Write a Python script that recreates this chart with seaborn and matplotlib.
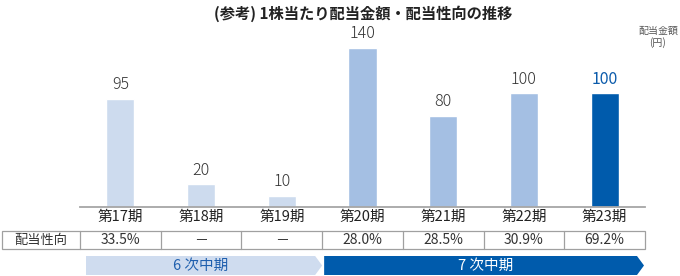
import matplotlib
matplotlib.use("Agg")
import matplotlib.pyplot as plt
from matplotlib.patches import Polygon, Rectangle
import seaborn as sns
import pandas as pd

# ---- data ----
periods = ["第17期", "第18期", "第19期", "第20期", "第21期", "第22期", "第23期"]
dividends = [95, 20, 10, 140, 80, 100, 100]
payout_ratio = ["33.5%", "－", "－", "28.0%", "28.5%", "30.9%", "69.2%"]
bar_group = ["light", "light", "light", "mid", "mid", "mid", "dark"]
phases = [("6 次中期", 0, 3), ("7 次中期", 3, 7)]
title = "(参考) 1株当たり配当金額・配当性向の推移"
unit_label = "配当金額\n(円)"
row_label = "配当性向"

# ---- style ----
sns.set_theme(style="white")
plt.rcParams["font.family"] = ["Noto Sans CJK JP", "DejaVu Sans"]

colors = {"light": "#cddbee", "mid": "#a4bfe3", "dark": "#005bac"}
arrow_colors = ["#cfdcef", "#005bac"]
arrow_text_colors = ["#1f5fae", "#ffffff"]

W, H = 680, 276
fig = plt.figure(figsize=(W / 100, H / 100), dpi=100)

# overlay axes in pixel coordinates (for table / arrows)
ov = fig.add_axes([0, 0, 1, 1], zorder=0)
ov.set_xlim(0, W)
ov.set_ylim(H, 0)
ov.axis("off")

ax_left, ax_right = 80, 645
base_y, top_y = 207, 27
px_per_unit = 1.137
ax = fig.add_axes([ax_left / W, (H - base_y) / H, (ax_right - ax_left) / W,
                   (base_y - top_y) / H], zorder=1)
ax.patch.set_alpha(0)

df = pd.DataFrame({"period": periods, "dividend": dividends, "group": bar_group})
sns.barplot(data=df, x="period", y="dividend", hue="period",
            palette=[colors[g] for g in bar_group], width=0.35,
            legend=False, ax=ax, saturation=1)
ax.set_xlim(-0.5, len(periods) - 0.5)
ax.set_ylim(0, (base_y - top_y) / px_per_unit)
ax.set_xlabel("")
ax.set_ylabel("")
ax.set_yticks([])
for s in ["top", "left", "right"]:
    ax.spines[s].set_visible(False)
ax.spines["bottom"].set_color("#a6a6a6")
ax.spines["bottom"].set_linewidth(1.3)
ax.tick_params(axis="x", length=0, pad=2, labelsize=10.5, labelcolor="#222222")

for i, (v, g) in enumerate(zip(dividends, bar_group)):
    dark = g == "dark"
    ax.annotate(str(v), (i, v), xytext=(0, 7), textcoords="offset points",
                ha="center", va="baseline", fontsize=11.5,
                fontweight="normal" if dark else "light",
                color="#0b5bab" if dark else "#333333")

# title & unit
fig.text(363 / W, 1 - 14 / H, title, ha="center", va="center",
         fontsize=11, fontweight="bold", color="#222222")
fig.text(658 / W, 1 - 37 / H, unit_label, ha="center", va="center",
         fontsize=7.2, color="#555555", linespacing=1.15)

# table
col_w = (ax_right - ax_left) / len(periods)
t_top, t_bot = 231, 249
edge = "#a0a0a0"
ov.add_patch(Rectangle((2, t_top), ax_right - 2, t_bot - t_top, fill=False,
                       edgecolor=edge, linewidth=0.9))
for k in range(len(periods)):
    x0 = ax_left + k * col_w
    ov.plot([x0, x0], [t_top, t_bot], color=edge, linewidth=0.9)
    ov.text(x0 + col_w / 2, (t_top + t_bot) / 2 + 0.5, payout_ratio[k],
            ha="center", va="center", fontsize=10, color="#333333")
ov.text((2 + ax_left) / 2, (t_top + t_bot) / 2 + 0.5, row_label,
        ha="center", va="center", fontsize=9.5, color="#333333")

# phase arrows
a_top, a_bot = 256, 275
a_mid = (a_top + a_bot) / 2
for j, (name, c0, c1) in enumerate(phases):
    x0 = ax_left + c0 * col_w + (6 if j == 0 else 2)
    x1 = ax_left + c1 * col_w - (0 if j == 0 else 1)
    pts = [(x0, a_top), (x1 - 7, a_top), (x1, a_mid), (x1 - 7, a_bot), (x0, a_bot)]
    ov.add_patch(Polygon(pts, closed=True, facecolor=arrow_colors[j],
                         edgecolor="none"))
    cx = ax_left + (c0 + c1) / 2 * col_w + (0 if j == 0 else 2)
    ov.text(cx, a_mid + 0.5, name, ha="center", va="center", fontsize=10.5,
            color=arrow_text_colors[j])

fig.savefig("out.png", dpi=100)
